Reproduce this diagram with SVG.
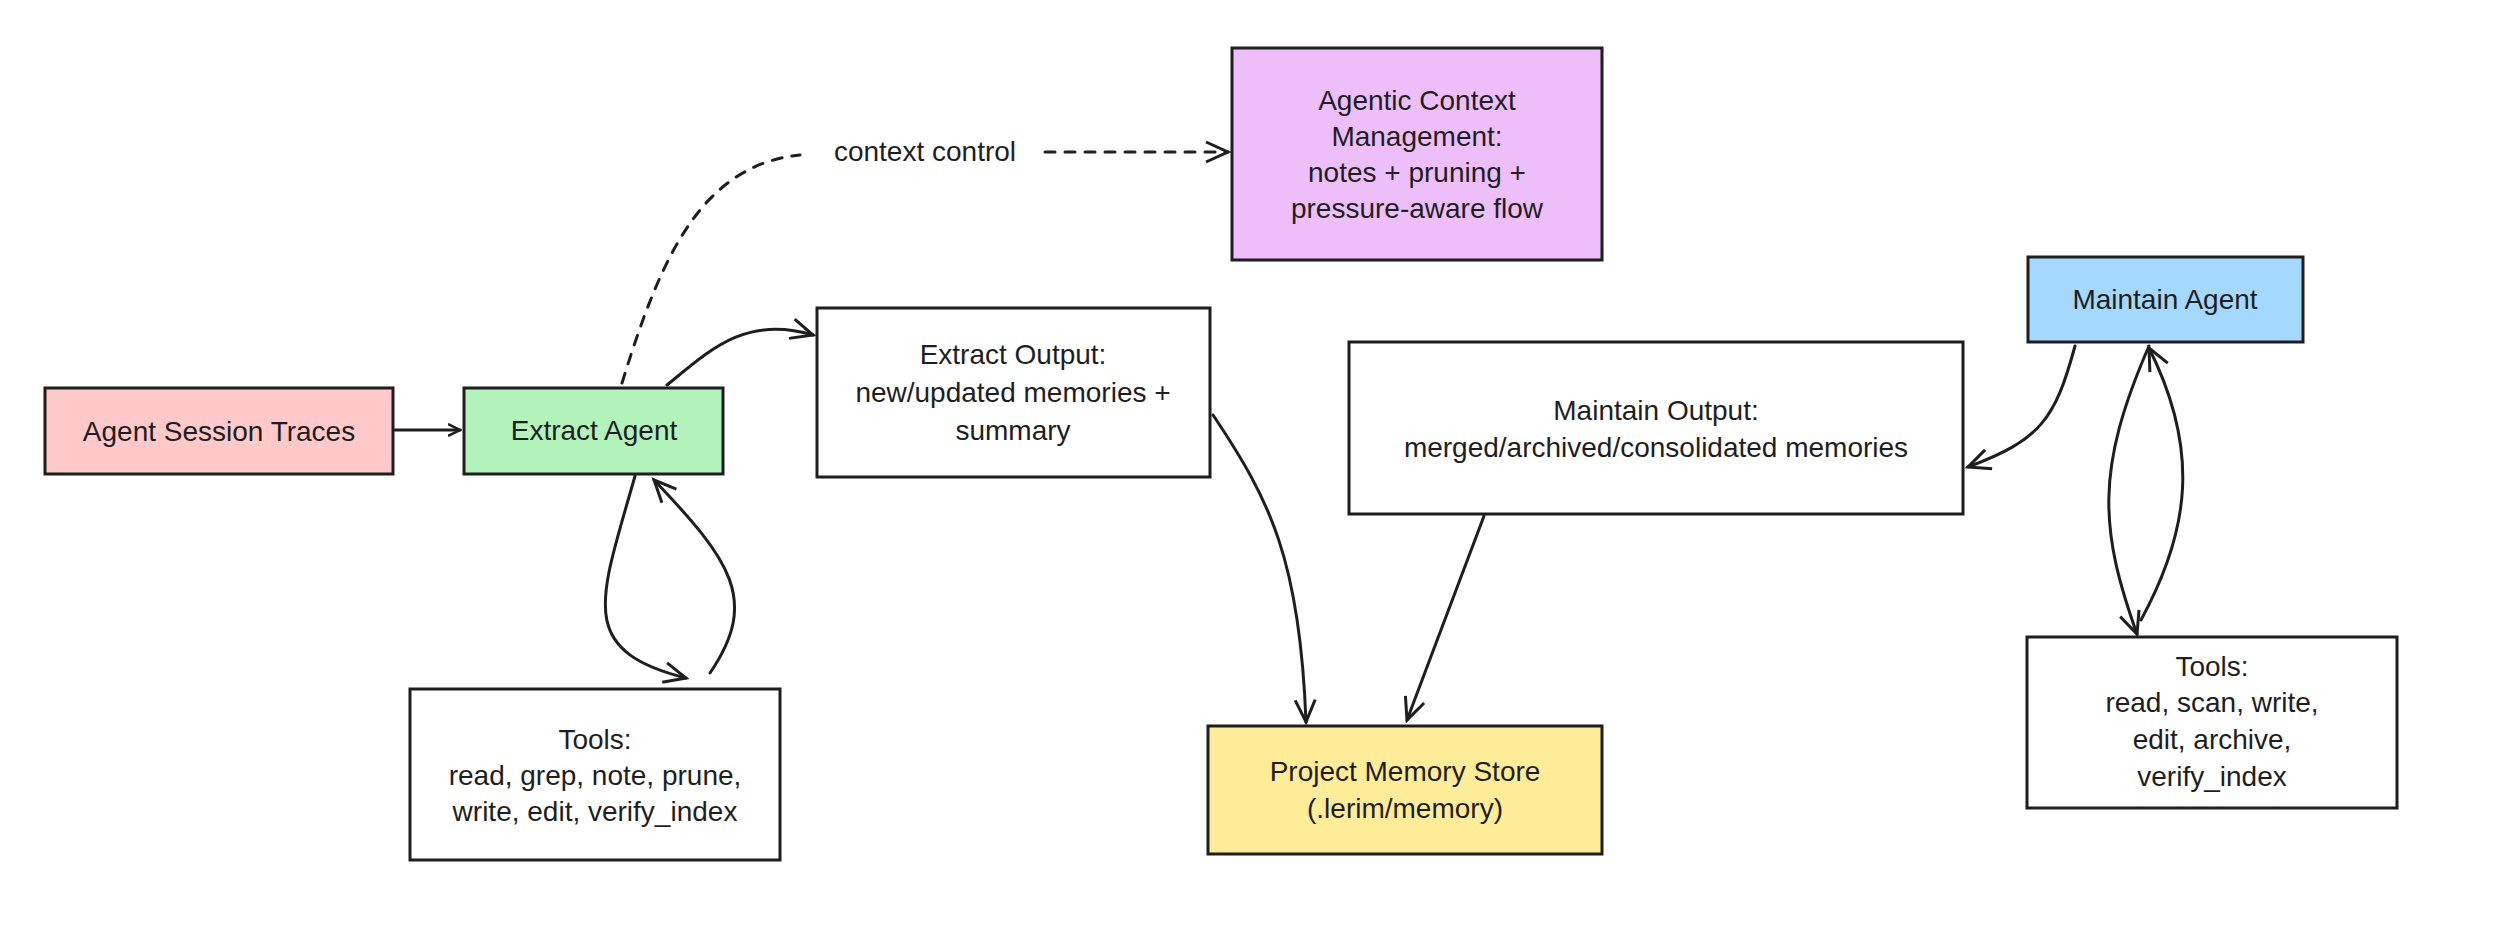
<svg xmlns="http://www.w3.org/2000/svg" width="2502" height="946" viewBox="0 0 2502 946">
<style>
rect{stroke:#1e1e1e;stroke-width:3}
text{font-family:"Liberation Sans",sans-serif;font-size:28px;fill:#1e1e1e;text-anchor:middle}
.c path{fill:none;stroke:#1e1e1e;stroke-width:3;stroke-linecap:round}
</style>
<defs><marker id="a" markerWidth="14" markerHeight="14" refX="12" refY="7" orient="auto" markerUnits="userSpaceOnUse" viewBox="0 0 14 14"><path d="M0,1 L12,7 L0,13" fill="none" stroke="#1e1e1e" stroke-width="2.5"/></marker>
<marker id="b" markerWidth="28" markerHeight="28" refX="24" refY="14" orient="auto" markerUnits="userSpaceOnUse" viewBox="0 0 28 28"><path d="M2,4 L24,14 L2,24" fill="none" stroke="#1e1e1e" stroke-width="3"/></marker></defs>
<g id="traces"><rect x="45" y="388" width="348" height="86" fill="#ffc9c9"/><text x="219" y="441">Agent Session Traces</text></g>
<g id="extract"><rect x="464" y="388" width="259" height="86" fill="#b2f2bb"/><text x="594" y="440">Extract Agent</text></g>
<g id="extract-output"><rect x="817" y="308" width="393" height="169" fill="#fff"/><text x="1013" y="364">Extract Output:</text><text x="1013" y="402">new/updated memories +</text><text x="1013" y="440">summary</text></g>
<g id="tools1"><rect x="410" y="689" width="370" height="171" fill="#fff"/><text x="595" y="749">Tools:</text><text x="595" y="785">read, grep, note, prune,</text><text x="595" y="821">write, edit, verify_index</text></g>
<g id="acm"><rect x="1232" y="48" width="370" height="212" fill="#eebefa"/><text x="1417" y="110">Agentic Context</text><text x="1417" y="146">Management:</text><text x="1417" y="182">notes + pruning +</text><text x="1417" y="218">pressure-aware flow</text></g>
<g id="maintain"><rect x="2028" y="257" width="275" height="85" fill="#a5d8ff"/><text x="2165" y="309">Maintain Agent</text></g>
<g id="maintain-output"><rect x="1349" y="342" width="614" height="172" fill="#fff"/><text x="1656" y="420">Maintain Output:</text><text x="1656" y="457">merged/archived/consolidated memories</text></g>
<g id="store"><rect x="1208" y="726" width="394" height="128" fill="#ffec99"/><text x="1405" y="781">Project Memory Store</text><text x="1405" y="818">(.lerim/memory)</text></g>
<g id="tools2"><rect x="2027" y="637" width="370" height="171" fill="#fff"/><text x="2212" y="676">Tools:</text><text x="2212" y="712">read, scan, write,</text><text x="2212" y="749">edit, archive,</text><text x="2212" y="786">verify_index</text></g>
<g class="c" id="connectors">
<path d="M395,430 L460,430" marker-end="url(#a)"/>
<path d="M622,383 C660,260 700,165 800,155" stroke-dasharray="10 10"/>
<path d="M1045,152 L1228,152" stroke-dasharray="10 10" marker-end="url(#b)"/>
<text x="925" y="161">context control</text>
<path d="M667,385 C710,350 745,315 813,335" marker-end="url(#b)"/>
<path d="M635,476 C600,600 575,650 686,678" marker-end="url(#b)"/>
<path d="M710,673 C760,600 730,560 654,480" marker-end="url(#b)"/>
<path d="M1213,415 C1270,500 1300,560 1306,722" marker-end="url(#b)"/>
<path d="M1484,516 L1407,720" marker-end="url(#b)"/>
<path d="M2075,346 C2055,420 2040,440 1968,467" marker-end="url(#b)"/>
<path d="M2149,346 C2095,470 2100,530 2137,634" marker-end="url(#b)"/>
<path d="M2141,620 C2190,530 2200,450 2149,348" marker-end="url(#b)"/>
</g>
</svg>
